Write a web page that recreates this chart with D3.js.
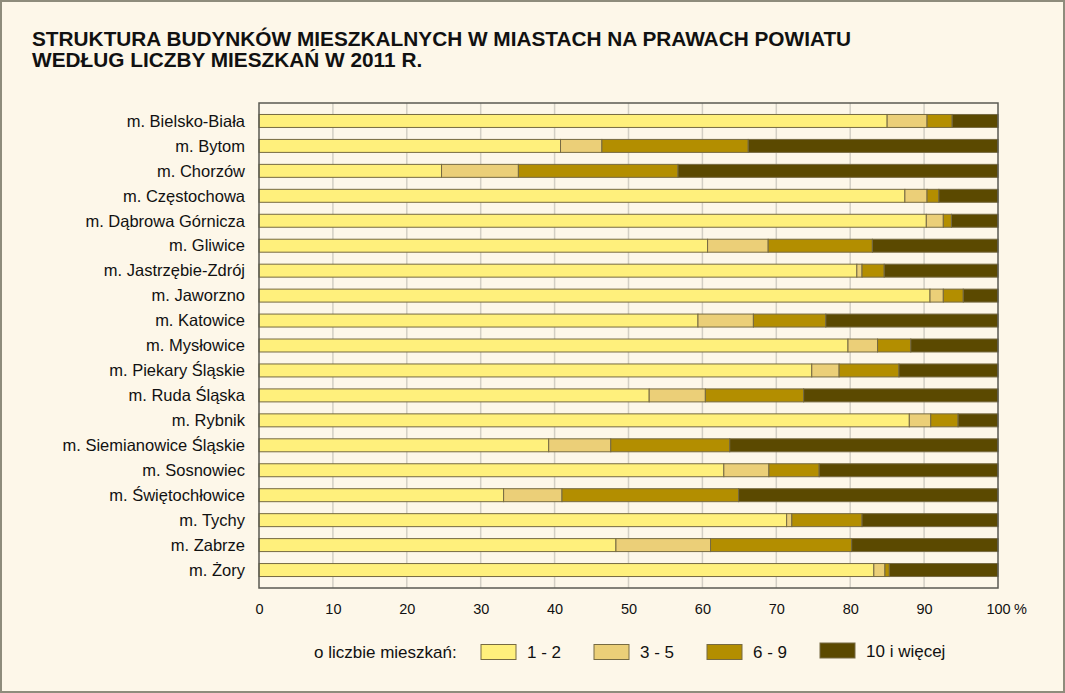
<!DOCTYPE html>
<html>
<head>
<meta charset="utf-8">
<script src="https://cdn.jsdelivr.net/npm/d3@7"></script>
<style>
  html, body { margin: 0; padding: 0; background: #fdf7e9; }
  svg { display: block; }
</style>
</head>
<body>
<div id="chart"></div>
<script>
const width = 1065;
const height = 693;

// cities (top to bottom)
const cities = [
  "m. Bielsko-Biała", "m. Bytom", "m. Chorzów", "m. Częstochowa",
  "m. Dąbrowa Górnicza", "m. Gliwice", "m. Jastrzębie-Zdrój", "m. Jaworzno",
  "m. Katowice", "m. Mysłowice", "m. Piekary Śląskie", "m. Ruda Śląska",
  "m. Rybnik", "m. Siemianowice Śląskie", "m. Sosnowiec", "m. Świętochłowice",
  "m. Tychy", "m. Zabrze", "m. Żory"
];

// share of buildings (%) by number of residents
const r1_2  = [85.0, 40.8, 24.7, 87.4, 90.3, 60.7, 80.9, 90.8, 59.4, 79.7, 74.8, 52.8, 88.0, 39.2, 62.9, 33.1, 71.4, 48.3, 83.2];
const r3_5  = [ 5.4,  5.6, 10.4,  3.0,  2.3,  8.2,  0.7,  1.8,  7.5,  4.0,  3.7,  7.6,  2.9,  8.4,  6.1,  7.9,  0.7, 12.8,  1.5];
const r6_9  = [ 3.4, 19.8, 21.6,  1.6,  1.1, 14.1,  3.0,  2.7,  9.8,  4.5,  8.1, 13.3,  3.7, 16.1,  6.8, 23.9,  9.5, 19.1,  0.6];
const r10   = [ 6.2, 33.8, 43.3,  8.0,  6.3, 17.0, 15.4,  4.7, 23.3, 11.8, 13.4, 26.3,  5.4, 36.3, 24.2, 35.1, 18.4, 19.8, 14.7];

const seriesNames = ["1 - 2", "3 - 5", "6 - 9", "10 i więcej"];
const seriesColors = ["#fff07c", "#ebcf78", "#b38e00", "#5b4900"];
const xTicks = [0, 10, 20, 30, 40, 50, 60, 70, 80, 90, 100];

const rows = cities.map((c, i) => ({ city: c, a: r1_2[i], b: r3_5[i], c: r6_9[i], d: r10[i] }));
const keys = ["a", "b", "c", "d"];

const font = "'Liberation Sans', Arial, sans-serif";

const svg = d3.select("#chart").append("svg")
  .attr("width", width)
  .attr("height", height)
  .style("font-family", font);

// background + outer frame
svg.append("rect")
  .attr("x", 1).attr("y", 1)
  .attr("width", width - 2).attr("height", height - 2)
  .attr("fill", "#fdf7e9")
  .attr("stroke", "#8e8c7c")
  .attr("stroke-width", 2);

// title
const title = svg.append("g")
  .style("font-weight", "bold")
  .style("font-size", "20.8px")
  .attr("fill", "#111");
title.append("text").attr("x", 32).attr("y", 46)
  .text("STRUKTURA BUDYNKÓW MIESZKALNYCH W MIASTACH NA PRAWACH POWIATU");
title.append("text").attr("x", 32).attr("y", 67)
  .text("WEDŁUG LICZBY MIESZKAŃ W 2011 R.");

const plot = { left: 259, right: 998, top: 103, bottom: 588 };

const x = d3.scaleLinear().domain([0, 100]).range([plot.left, plot.right]);
const y = d3.scaleBand()
  .domain(cities)
  .range([plot.top, plot.bottom])
  .paddingInner(0.48)
  .paddingOuter(0.46);

// grid
svg.append("g")
  .selectAll("line")
  .data(xTicks.slice(1, -1))
  .join("line")
  .attr("x1", d => x(d)).attr("x2", d => x(d))
  .attr("y1", plot.top).attr("y2", plot.bottom)
  .attr("stroke", "#d3cfc4")
  .attr("stroke-width", 1.5);

// stacked bars
const stack = d3.stack().keys(keys);
const layers = stack(rows);

svg.append("g")
  .selectAll("g")
  .data(layers)
  .join("g")
  .attr("fill", (d, i) => seriesColors[i])
  .selectAll("rect")
  .data(d => d)
  .join("rect")
  .attr("x", d => x(d[0]))
  .attr("y", d => y(d.data.city))
  .attr("width", d => x(d[1]) - x(d[0]))
  .attr("height", y.bandwidth())
  .attr("stroke", "#766a42")
  .attr("stroke-width", 1);

// plot frame
svg.append("rect")
  .attr("x", plot.left).attr("y", plot.top)
  .attr("width", plot.right - plot.left)
  .attr("height", plot.bottom - plot.top)
  .attr("fill", "none")
  .attr("stroke", "#5a5a52")
  .attr("stroke-width", 1.5);

// category labels
svg.append("g")
  .style("font-size", "16.5px")
  .attr("fill", "#111")
  .selectAll("text")
  .data(cities)
  .join("text")
  .attr("x", 245)
  .attr("y", d => y(d) + y.bandwidth() / 2)
  .attr("dy", "0.35em")
  .attr("text-anchor", "end")
  .text(d => d);

// x axis labels
const xAxis = d3.axisBottom(x)
  .tickValues(xTicks)
  .tickSize(0)
  .tickPadding(0)
  .tickFormat(d => d);

const ax = svg.append("g")
  .attr("transform", `translate(0,${plot.bottom + 16})`)
  .call(xAxis);
ax.select(".domain").remove();
ax.selectAll("text")
  .style("font-family", font)
  .style("font-size", "14.5px")
  .attr("fill", "#111");
ax.append("text")
  .attr("x", x(100) + 16)
  .attr("y", 0)
  .attr("dy", "0.71em")
  .attr("fill", "#111")
  .attr("text-anchor", "start")
  .style("font-family", font)
  .style("font-size", "14.5px")
  .text("%");

// legend
const legend = svg.append("g")
  .style("font-size", "17px")
  .attr("fill", "#111");

legend.append("text")
  .attr("x", 314).attr("y", 652).attr("dy", "0.35em")
  .text("o liczbie mieszkań:");

const legendX = [481, 594, 707, 820];
const item = legend.selectAll("g.item")
  .data(seriesNames)
  .join("g")
  .attr("class", "item")
  .attr("transform", (d, i) => `translate(${legendX[i]},${i === 3 ? 643 : 644.5})`);
item.append("rect")
  .attr("width", 35).attr("height", 15)
  .attr("fill", (d, i) => seriesColors[i])
  .attr("stroke", "#766a42")
  .attr("stroke-width", 1);
item.append("text")
  .attr("x", 46).attr("y", 8).attr("dy", "0.35em")
  .text(d => d);
</script>
</body>
</html>
